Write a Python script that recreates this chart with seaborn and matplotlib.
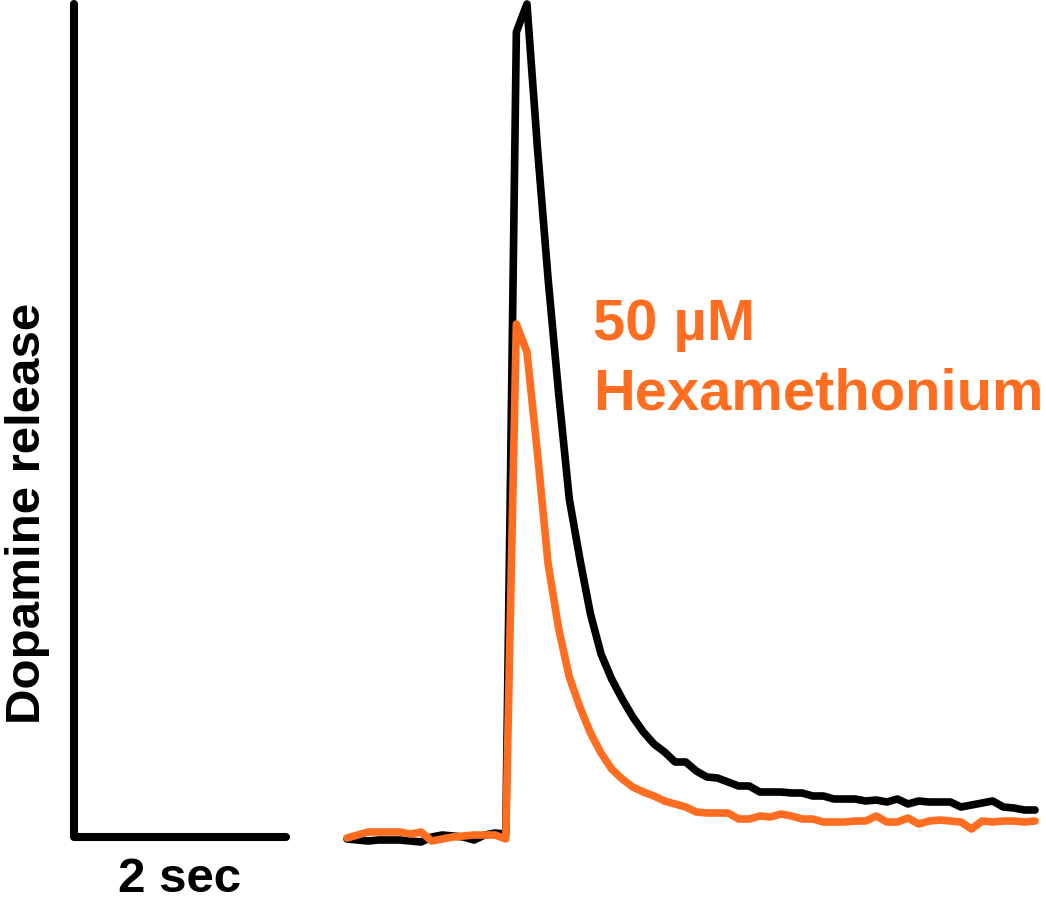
import numpy as np
import pandas as pd
import matplotlib
matplotlib.use("Agg")
import matplotlib.pyplot as plt
import seaborn as sns

# DATA (arbitrary amplitude units, 0.1 s per sample)
time_step = 0.1
control = [-2, -3, -4, -3, -3, -3, -4, -5, 0, 2, 1, 0, -3, 2, 4, 3,
           805, 833, 688, 558, 443, 338, 278, 223, 183, 158, 138, 120, 105, 93,
           85, 75, 75, 66, 60, 59, 55, 51, 51, 45, 45, 45, 44, 44, 41, 41,
           38, 38, 38, 36, 37, 35, 38, 33, 36, 35, 35, 35, 30, 32, 34, 36,
           30, 29, 27, 27]
hexa = [-1, 2, 5, 5, 5, 5, 3, 5, -4, -2, 0, 1, 2, 2, 2, -2,
        513, 485, 383, 273, 208, 160, 130, 104, 84, 68, 58, 50, 45, 41,
        36, 33, 30, 25, 24, 24, 24, 18, 18, 21, 20, 23, 21, 18, 18, 15,
        15, 15, 16, 16, 21, 15, 15, 19, 13, 16, 17, 16, 15, 8, 16, 15,
        16, 16, 15, 16]
trace_names = ["Control", "50 µM Hexamethonium"]
trace_colors = ["#000000", "#FF6E20"]

# scale bars: 2 sec horizontal, vertical = control peak
bar_sec = 2.0
bar_amp = 833

t = np.arange(len(control)) * time_step
df = pd.DataFrame({
    "time": np.concatenate([t, t]),
    "signal": control + hexa,
    "trace": [trace_names[0]] * len(control) + [trace_names[1]] * len(hexa),
})

sns.set_style("white")
plt.rcParams["font.family"] = ["Liberation Sans", "DejaVu Sans"]
plt.rcParams["text.color"] = "black"

fig = plt.figure(figsize=(10.46, 9.12), dpi=100)
ax = fig.add_axes([0, 0, 1, 1])

sns.lineplot(data=df, x="time", y="signal", hue="trace", palette=trace_colors,
             hue_order=trace_names, linewidth=5.5, legend=False, ax=ax,
             solid_joinstyle="round", solid_capstyle="round")

# scale bar
x0 = -2.579
ax.plot([x0 + bar_sec, x0, x0], [0, 0, bar_amp], color="black", lw=5.8,
        solid_capstyle="round", solid_joinstyle="round")

ax.text(x0 + bar_sec / 2, -54, "2 sec", ha="center", va="baseline",
        fontsize=35.5, fontweight="bold", color="black")
ax.text(-3.023, 325, "Dopamine release", rotation=90, ha="center", va="center",
        fontsize=35.5, fontweight="bold", color="black")
ax.text(2.324, 498, "50 µM", ha="left", va="baseline", fontsize=41.7,
        fontweight="bold", color=trace_colors[1])
ax.text(2.324, 428, "Hexamethonium", ha="left", va="baseline", fontsize=41.7,
        fontweight="bold", color=trace_colors[1])

ax.set_xlim(-347 / 105.85, (1046 - 347) / 105.85)
ax.set_ylim(838 - 912, 838)
ax.axis("off")

fig.savefig("out.png", dpi=100)
